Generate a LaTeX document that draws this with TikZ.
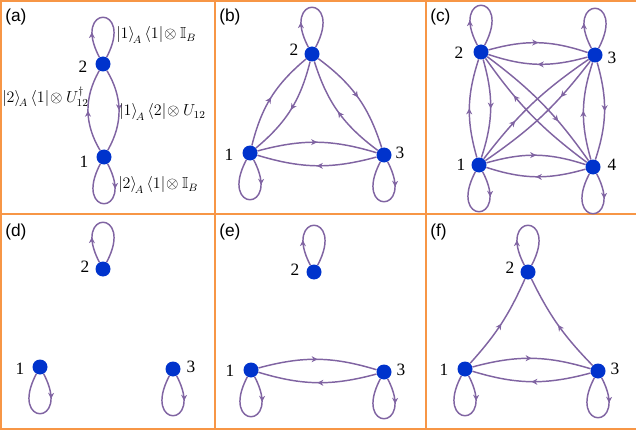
\documentclass[tikz,border=0pt]{standalone}
\usepackage{fontspec}
\setmainfont{Liberation Serif}
\newfontfamily\panelfont{Liberation Sans}
\usepackage{amssymb}
\usetikzlibrary{arrows.meta,decorations.markings}
\definecolor{edgec}{HTML}{8064A2}
\definecolor{dotc}{HTML}{0033CC}
\definecolor{framec}{HTML}{F79646}
\tikzset{
  dot/.style={circle,fill=dotc,inner sep=0pt,minimum size=11.25pt},
  num/.style={inner sep=0pt,font=\fontsize{13}{15}\selectfont},
  plabel/.style={inner sep=0pt,anchor=west,font=\panelfont\fontsize{13}{15}\selectfont},
  mlabel/.style={inner sep=0pt,font=\fontsize{12}{14}\selectfont},
  frame/.style={draw=framec,line width=1.5pt},
  tipmark/.style={postaction={decorate},decoration={markings,mark=at position #1 with {\arrow{Stealth[length=4.5pt,width=4.5pt,inset=1.4pt]}}}},
  arc/.style={draw=edgec,line width=1.1pt,tipmark=#1},
  arc/.default=0.5,
  loopst/.style={draw=edgec,line width=1.1pt,tipmark=0.28}
}
\newcommand{\uploop}[1]{\draw[loopst] (#1) .. controls +(118:68) and +(62:68) .. (#1);}
\newcommand{\downloop}[1]{\draw[loopst] (#1) .. controls +(-62:68) and +(-118:68) .. (#1);}
\begin{document}
\begin{tikzpicture}[x=0.75pt,y=0.75pt]
\useasboundingbox (0,0) rectangle (636,-435);
% frame
\draw[frame] (1,0) -- (1,-429);
\draw[frame] (0,-1) -- (636,-1);
\draw[frame] (0,-429) -- (636,-429);
\draw[frame] (0,-214) -- (636,-214);
\draw[frame] (215,0) -- (215,-429);
\draw[frame] (426,0) -- (426,-429);
% panel labels
\node[plabel] (pa) at (5,-17) {(a)};
\node[plabel] (pb) at (219,-17) {(b)};
\node[plabel] (pc) at (430,-17) {(c)};
\node[plabel] (pd) at (5,-232) {(d)};
\node[plabel] (pe) at (219,-232) {(e)};
\node[plabel] (pf) at (430,-232) {(f)};
% ---------- (a)
\node[dot] (a2) at (103,-64) {};
\node[dot] (a1) at (104,-157) {};
\node[num] (a2l) at (83,-67) {2};
\node[num] (a1l) at (84,-162) {1};
\uploop{a2}
\downloop{a1}
\draw[arc] (a1) to[bend left=30] (a2);
\draw[arc] (a2) to[bend left=30] (a1);
\node[mlabel,anchor=west] (la1) at (116,-35) {$\bigl|1\bigr\rangle_{\!A}\,\bigl\langle 1\bigr|\!\otimes\mathbb{I}_B$};
\node[mlabel,anchor=east] (la2) at (89,-97) {$\bigl|2\bigr\rangle_{\!A}\,\bigl\langle 1\bigr|\!\otimes U_{12}^{\dagger}$};
\node[mlabel,anchor=west] (la3) at (119,-112) {$\bigl|1\bigr\rangle_{\!A}\,\bigl\langle 2\bigr|\!\otimes U_{12}$};
\node[mlabel,anchor=west] (la4) at (118,-185) {$\bigl|2\bigr\rangle_{\!A}\,\bigl\langle 1\bigr|\!\otimes\mathbb{I}_B$};
% ---------- (b)
\node[dot] (b2) at (312,-54) {};
\node[dot] (b1) at (250,-153) {};
\node[dot] (b3) at (384,-155) {};
\node[num] (b2l) at (294,-50) {2};
\node[num] (b1l) at (229,-155) {1};
\node[num] (b3l) at (400,-153) {3};
\uploop{b2}
\downloop{b1}
\downloop{b3}
\draw[arc] (b1) to[bend left=18] (b2);
\draw[arc] (b2) to[bend left=18] (b1);
\draw[arc] (b2) to[bend left=18] (b3);
\draw[arc] (b3) to[bend left=18] (b2);
\draw[arc] (b1) to[bend left=16] (b3);
\draw[arc] (b3) to[bend left=16] (b1);
% ---------- (c)
\node[dot] (c2) at (481,-52) {};
\node[dot] (c3) at (595,-55) {};
\node[dot] (c1) at (479,-165) {};
\node[dot] (c4) at (593,-167) {};
\node[num] (c2l) at (459,-53) {2};
\node[num] (c3l) at (612,-58) {3};
\node[num] (c1l) at (461,-165) {1};
\node[num] (c4l) at (612,-165) {4};
\uploop{c2}
\uploop{c3}
\downloop{c1}
\downloop{c4}
\draw[arc] (c1) to[bend left=17] (c2);
\draw[arc] (c2) to[bend left=17] (c1);
\draw[arc] (c2) to[bend left=17] (c3);
\draw[arc] (c3) to[bend left=17] (c2);
\draw[arc] (c3) to[bend left=17] (c4);
\draw[arc] (c4) to[bend left=17] (c3);
\draw[arc] (c1) to[bend left=17] (c4);
\draw[arc] (c4) to[bend left=17] (c1);
\draw[arc=0.34] (c1) to[bend left=9] (c3);
\draw[arc=0.32] (c3) to[bend left=9] (c1);
\draw[arc=0.66] (c2) to[bend left=9] (c4);
\draw[arc=0.68] (c4) to[bend left=9] (c2);
% ---------- (d)
\node[dot] (d2) at (103,-269) {};
\node[dot] (d1) at (40,-367) {};
\node[dot] (d3) at (173,-369) {};
\node[num] (d2l) at (85,-267) {2};
\node[num] (d1l) at (20,-369) {1};
\node[num] (d3l) at (191,-367) {3};
\uploop{d2}
\downloop{d1}
\downloop{d3}
% ---------- (e)
\node[dot] (e2) at (314,-272) {};
\node[dot] (e1) at (251,-370) {};
\node[dot] (e3) at (384,-372) {};
\node[num] (e2l) at (295,-270) {2};
\node[num] (e1l) at (230,-371) {1};
\node[num] (e3l) at (401,-370) {3};
\uploop{e2}
\downloop{e1}
\downloop{e3}
\draw[arc] (e1) to[bend left=16] (e3);
\draw[arc] (e3) to[bend left=16] (e1);
% ---------- (f)
\node[dot] (f2) at (528,-272) {};
\node[dot] (f1) at (465,-369) {};
\node[dot] (f3) at (598,-371) {};
\node[num] (f2l) at (510,-268) {2};
\node[num] (f1l) at (444,-370) {1};
\node[num] (f3l) at (615,-369) {3};
\uploop{f2}
\downloop{f1}
\downloop{f3}
\draw[arc] (f1) to[bend right=9] (f2);
\draw[arc] (f3) to[bend left=9] (f2);
\draw[arc] (f1) to[bend left=16] (f3);
\draw[arc] (f3) to[bend left=16] (f1);
\end{tikzpicture}
\end{document}
